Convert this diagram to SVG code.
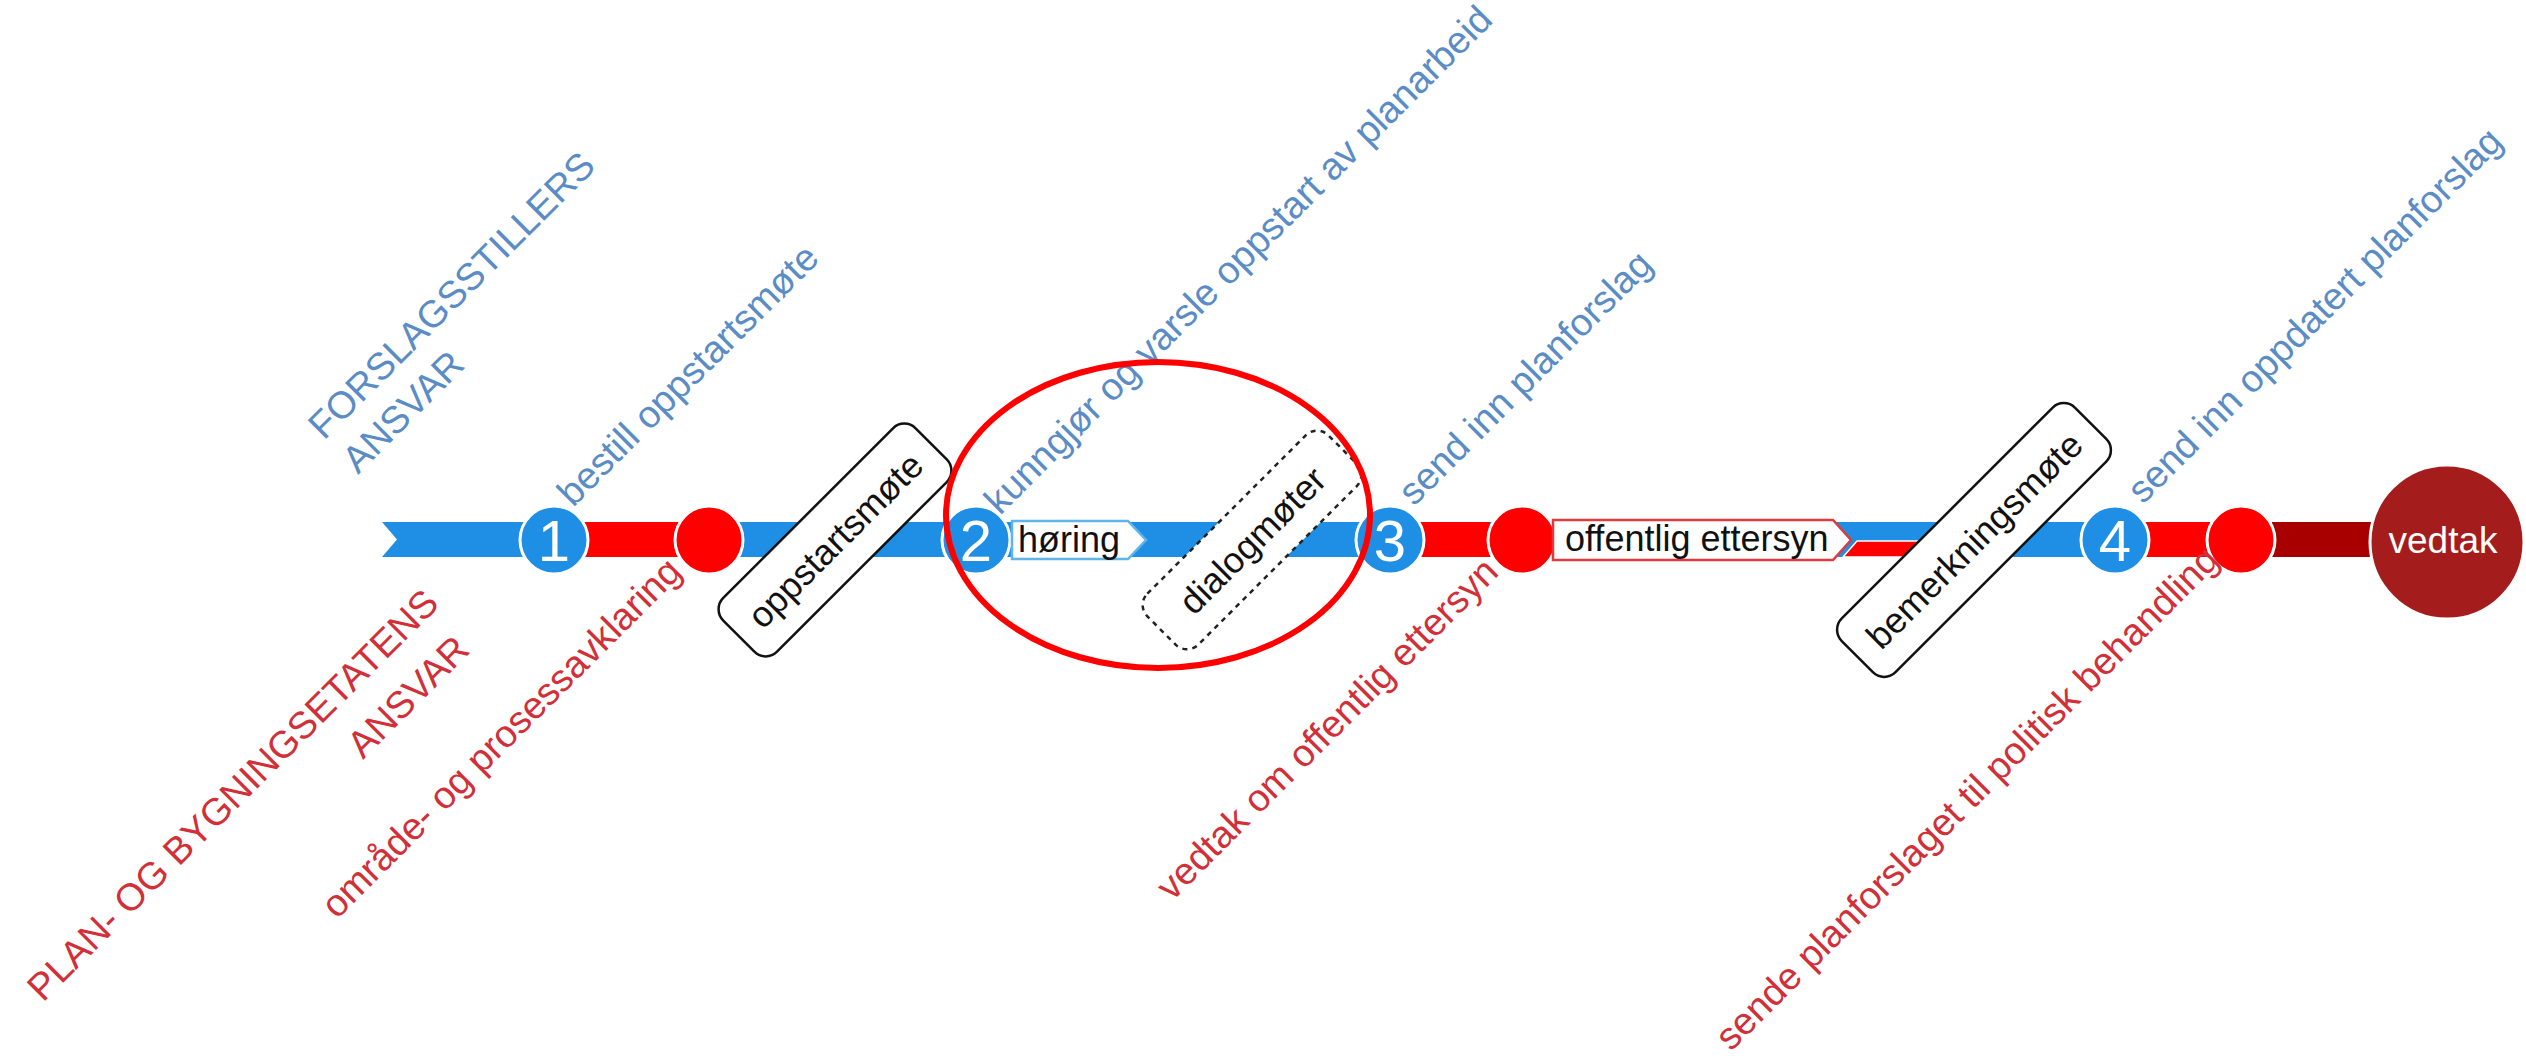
<svg xmlns="http://www.w3.org/2000/svg" width="2526" height="1063" viewBox="0 0 2526 1063">
  <style>
    text { font-family: "Liberation Sans", Arial, sans-serif; }
    .lblB { fill: #5A8CC6; font-size: 38px; }
    .lblR { fill: #D22F38; font-size: 38px; }
    .band { fill: #1E8FE5; }
    .red { fill: #FF0000; }
    .num { fill: #1E8FE5; stroke: #FFFFFF; stroke-width: 3; }
    .numT { fill: #FFFFFF; font-size: 58px; text-anchor: middle; }
    .redc { fill: #FF0000; stroke: #FFFFFF; stroke-width: 3; }
    .box { fill: #FFFFFF; stroke: #111111; stroke-width: 2.5; }
    .dbox { fill: #FFFFFF; stroke: #222222; stroke-width: 2.5; stroke-dasharray: 5 5; }
    .boxT { fill: #111111; font-size: 36px; text-anchor: middle; }
  </style>
  <rect width="2526" height="1063" fill="#FFFFFF"/>

  <g id="connectors">
    <polygon class="band" points="382,522 2115,522 2115,557 382,557 397,539.5"/>
    <rect class="red" x="585" y="522" width="95" height="35"/>
    <rect class="red" x="1420" y="522" width="70" height="35"/>
    <polygon class="red" points="1857,541 1945,541 1945,557 1843,557" stroke="#FFFFFF" stroke-width="1.5"/>
    <rect class="red" x="2145" y="522" width="65" height="35"/>
    <rect fill="#A80000" x="2272" y="522" width="103" height="35"/>
  </g>

  <g id="step1">
    <circle class="num" cx="554" cy="540" r="34"/>
    <text class="numT" x="554" y="561">1</text>
  </g>
  <g id="milestone1">
    <circle class="redc" cx="709" cy="540" r="34"/>
  </g>
  <g id="oppstartsmote" transform="translate(835,540) rotate(-45)">
    <rect class="box" x="-136" y="-38" width="272" height="76" rx="16"/>
    <text class="boxT" x="0" y="13">oppstartsmøte</text>
  </g>
  <g id="step2">
    <circle class="num" cx="976" cy="540" r="34"/>
    <text class="numT" x="976" y="561">2</text>
  </g>
  <g id="horing">
    <polygon points="1012,521 1128,521 1146,540 1128,559 1012,559" fill="#FFFFFF" stroke="#5DB5EA" stroke-width="2.5"/>
    <text x="1018" y="552" fill="#111111" font-size="36">høring</text>
  </g>
  <g id="dialogmoter" transform="translate(1252,540) rotate(-45)">
    <rect class="dbox" x="-128" y="-36" width="256" height="72" rx="16"/>
    <text class="boxT" x="0" y="13">dialogmøter</text>
  </g>
  <g id="step3">
    <circle class="num" cx="1390" cy="540" r="34"/>
    <text class="numT" x="1390" y="561">3</text>
  </g>
  <g id="milestone3">
    <circle class="redc" cx="1522" cy="540" r="34"/>
  </g>
  <g id="offentlig-ettersyn">
    <polygon points="1553,520 1833,520 1851,540 1833,560 1553,560" fill="#FFFFFF" stroke="#E0393E" stroke-width="2.5"/>
    <text x="1565" y="551" fill="#111111" font-size="36">offentlig ettersyn</text>
  </g>
  <g id="bemerkningsmote" transform="translate(1974,540) rotate(-45)">
    <rect class="box" x="-165" y="-38" width="330" height="76" rx="16"/>
    <text class="boxT" x="0" y="13">bemerkningsmøte</text>
  </g>
  <g id="step4">
    <circle class="num" cx="2115" cy="540" r="34"/>
    <text class="numT" x="2115" y="561">4</text>
  </g>
  <g id="milestone4">
    <circle class="redc" cx="2241" cy="540" r="34"/>
  </g>
  <g id="vedtak">
    <circle cx="2447" cy="542" r="77" fill="#A51C1C" stroke="#FFFFFF" stroke-width="3"/>
    <text x="2443" y="553" fill="#FFFFFF" font-size="37" text-anchor="middle">vedtak</text>
  </g>

  <g id="labels">
    <text class="lblB" transform="translate(324,441) rotate(-45)">FORSLAGSSTILLERS</text>
    <text class="lblB" transform="translate(358,475) rotate(-45)">ANSVAR</text>
    <text class="lblB" transform="translate(573,508) rotate(-45)">bestill oppstartsmøte</text>
    <text class="lblR" transform="translate(43,1003) rotate(-45)">PLAN- OG BYGNINGSETATENS</text>
    <text class="lblR" transform="translate(363,760) rotate(-45)">ANSVAR</text>
    <text class="lblR" transform="translate(337,920) rotate(-45)">område- og prosessavklaring</text>
    <text class="lblB" transform="translate(1000,516) rotate(-45)" font-size="36">kunngjør og varsle oppstart av planarbeid</text>
    <text class="lblB" transform="translate(1414,507) rotate(-45)">send inn planforslag</text>
    <text class="lblR" transform="translate(1172,902) rotate(-45)">vedtak om offentlig ettersyn</text>
    <text class="lblB" transform="translate(2143,505) rotate(-45)">send inn oppdatert planforslag</text>
    <text class="lblR" transform="translate(1731,1052) rotate(-45)">sende planforslaget til politisk behandling</text>
  </g>

  <g id="highlight">
    <ellipse cx="1158" cy="515" rx="212" ry="153" fill="none" stroke="#FF0000" stroke-width="6"/>
  </g>
</svg>
